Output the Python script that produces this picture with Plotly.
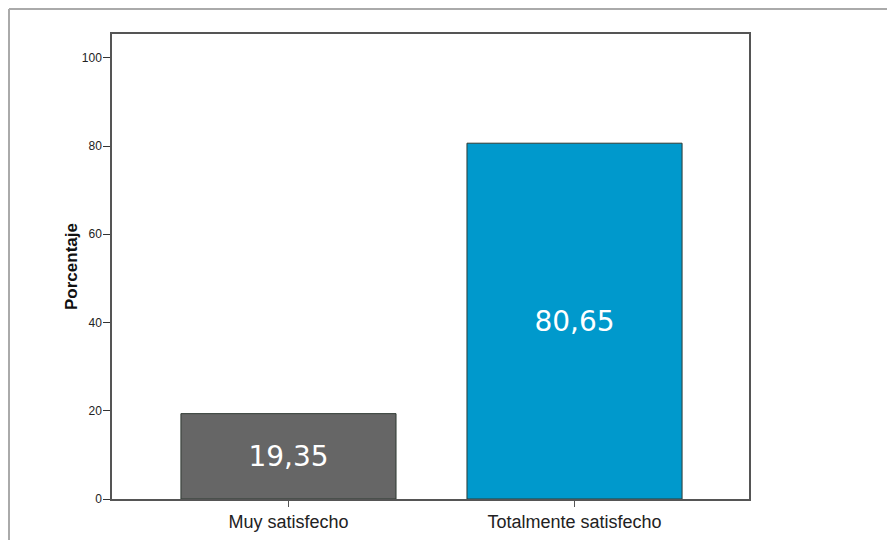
import plotly.graph_objects as go

categories = ["Muy satisfecho", "Totalmente satisfecho"]
values = [19.35, 80.65]
labels = ["19,35", "80,65"]
colors = ["#666666", "#0099cc"]
y_ticks = [0, 20, 40, 60, 80, 100]

W, H = 895, 540
OFF = 8  # page offset of the figure
L, R, T, B = 112 - OFF, 749 - OFF, 34 - OFF, 499 - OFF

fig = go.Figure()
fig.add_trace(go.Bar(
    x=categories, y=values, text=labels,
    textposition="inside", insidetextanchor="middle",
    textfont=dict(family="DejaVu Sans", size=28, color="white"),
    marker=dict(color=colors, line=dict(color="#2f3a33", width=1)),
    width=0.752, hoverinfo="skip",
))

fig.update_layout(
    width=W, height=H,
    margin=dict(l=L, r=W - R, t=T, b=H - B, autoexpand=False),
    paper_bgcolor="white", plot_bgcolor="white",
    showlegend=False,
    xaxis=dict(range=[-0.617, 1.61], showline=True, linecolor="#555555", linewidth=1.5,
               mirror=True, ticks="outside", ticklen=6, tickcolor="#555555",
               tickfont=dict(family="Liberation Sans", size=18, color="#222222"),
               showgrid=False, zeroline=False),
    yaxis=dict(range=[0, 105.4], tickvals=y_ticks, showline=True, linecolor="#555555",
               linewidth=1.5, mirror=True, ticks="outside", ticklen=7, tickcolor="#333333",
               ticklabelstandoff=-1,
               tickfont=dict(family="Liberation Sans", size=12, color="#222222"),
               showgrid=False, zeroline=False,
               title=dict(text="<b>Porcentaje</b>", standoff=0,
                          font=dict(family="Liberation Sans", size=17, color="#111111"))),
)

pw, ph = R - L, B - T
x0 = (1 - L) / pw
y1 = 1 + (T - 1) / ph
fig.add_shape(type="line", xref="paper", yref="paper", x0=x0, x1=2, y0=y1, y1=y1,
              line=dict(color="#aaaaaa", width=2))
fig.add_shape(type="line", xref="paper", yref="paper", x0=x0, x1=x0, y0=y1, y1=-1,
              line=dict(color="#aaaaaa", width=2))

fig.write_html("out.html")
